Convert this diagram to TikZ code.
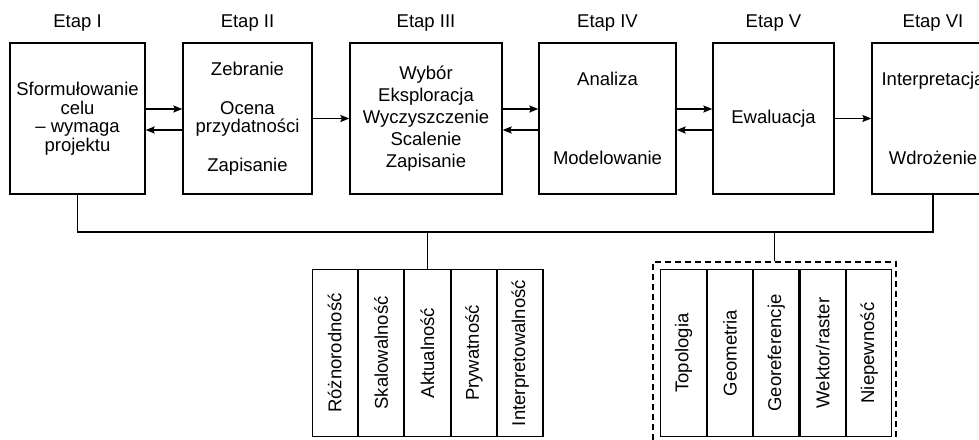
\documentclass[tikz,border=0pt]{standalone}
\usepackage{fontspec}
\setmainfont{Liberation Sans}
\usetikzlibrary{positioning, arrows.meta}

\begin{document}
\begin{tikzpicture}[x=1pt, y=-1pt,
    every node/.style={font=\fontsize{18.5}{18.5}\selectfont},
    stagebox/.style={draw, line width=1.3pt, align=center, minimum height=151pt, inner sep=0pt},
    stagelabel/.style={inner sep=0pt, above=10.5pt of #1},
    column/.style={draw, line width=1.1pt, minimum width=45.3pt, minimum height=167pt, inner sep=0pt},
    link/.style={line width=1.3pt, -{Stealth[length=9pt, width=7pt, inset=1.5pt]}},
    bus/.style={line width=1.3pt}]
    \clip (0,0) rectangle (979,439);
    \useasboundingbox (0,0) rectangle (979,439);

    % Draw stages
    \node[stagebox, minimum width=135pt] (e1) at (77.5,118.5) {Sformułowanie\\celu\\– wymaga\\projektu};
    \node[stagebox, minimum width=129pt] (e2) at (247.5,118.5) {Zebranie\\[20pt]Ocena\\przydatności\\[20pt]Zapisanie};
    \node[stagebox, minimum width=152pt, font=\fontsize{18.5}{22}\selectfont] (e3) at (426,118.5) {Wybór\\Eksploracja\\Wyczyszczenie\\Scalenie\\Zapisanie};
    \node[stagebox, minimum width=137pt] (e4) at (607.5,118.5) {Analiza\\[61pt]Modelowanie};
    \node[stagebox, minimum width=121pt] (e5) at (773.5,118.5) {Ewaluacja};
    \node[stagebox, minimum width=122pt] (e6) at (933,118.5) {Interpretacja\\[61pt]Wdrożenie};

    % Labels
    \node[stagelabel=e1] {Etap I};
    \node[stagelabel=e2] {Etap II};
    \node[stagelabel=e3] {Etap III};
    \node[stagelabel=e4] {Etap IV};
    \node[stagelabel=e5] {Etap V};
    \node[stagelabel=e6] {Etap VI};

    % Draw connections
    \draw[link] ([yshift=9.5pt]e1.east) -- ([yshift=9.5pt]e2.west);
    \draw[link] ([yshift=-11.5pt]e2.west) -- ([yshift=-11.5pt]e1.east);
    \draw[link] (e2.east) -- (e3.west);
    \draw[link] ([yshift=9.5pt]e3.east) -- ([yshift=9.5pt]e4.west);
    \draw[link] ([yshift=-11.5pt]e4.west) -- ([yshift=-11.5pt]e3.east);
    \draw[link] ([yshift=9.5pt]e4.east) -- ([yshift=9.5pt]e5.west);
    \draw[link] ([yshift=-11.5pt]e5.west) -- ([yshift=-11.5pt]e4.east);
    \draw[link] (e5.east) -- (e6.west);

    % Draw features (left group)
    \node[column] (a1) at (334.7,353) {\rotatebox{90}{Różnorodność}};
    \node[column, right=0pt of a1] (a2) {\rotatebox{90}{Skalowalność}};
    \node[column, right=0pt of a2] (a3) {\rotatebox{90}{Aktualność}};
    \node[column, right=0pt of a3] (a4) {\rotatebox{90}{Prywatność}};
    \node[column, right=0pt of a4] (a5) {\rotatebox{90}{Interpretowalność}};

    % Draw features (right group)
    \node[draw, dashed, line width=1.1pt, dash pattern=on 6pt off 4pt, minimum width=243pt, minimum height=182pt] (frame) at (774.5,353) {};
    \node[column] (b1) at (683.5,353) {\rotatebox{90}{Topologia}};
    \node[column, right=0pt of b1] (b2) {\rotatebox{90}{Geometria}};
    \node[column, right=0pt of b2] (b3) {\rotatebox{90}{Georeferencje}};
    \node[column, right=0pt of b3] (b4) {\rotatebox{90}{Wektor/raster}};
    \node[column, right=0pt of b4] (b5) {\rotatebox{90}{Niepewność}};

    % Draw bus
    \coordinate (rail) at (0,232);
    \draw[bus] (e1.south) -- (e1.south |- rail) -| (e6.south);
    \draw[bus] (a3.north) -- (a3.north |- rail);
    \draw[bus] (frame.north) -- (frame.north |- rail);
\end{tikzpicture}
\end{document}
